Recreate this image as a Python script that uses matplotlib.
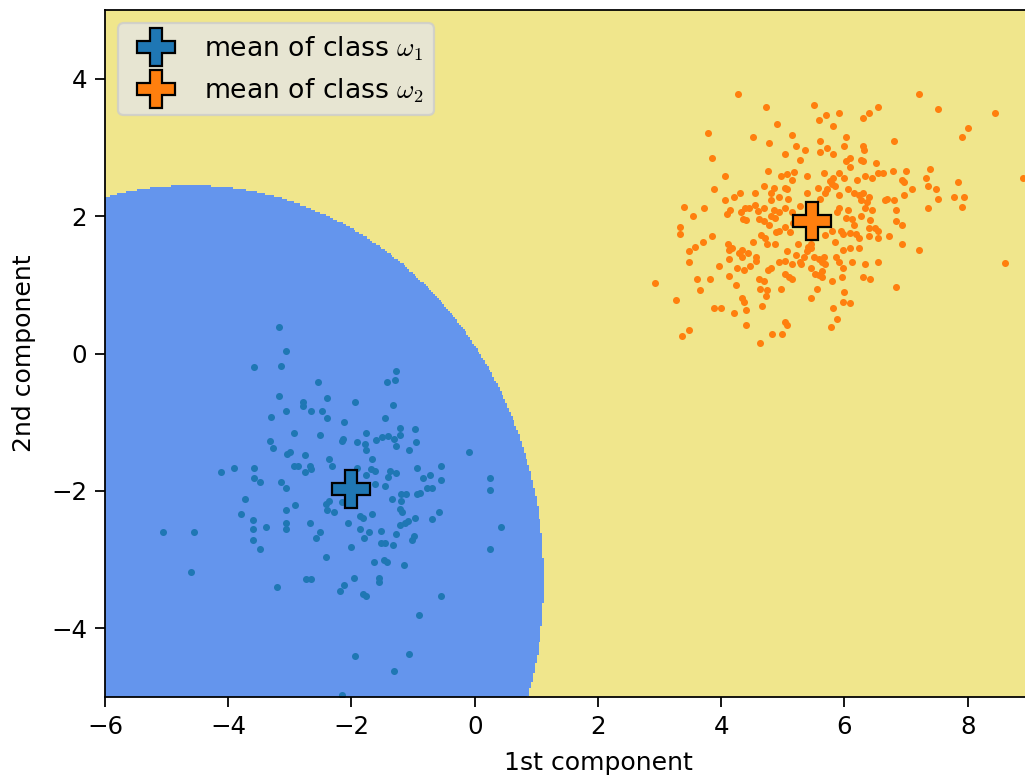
import numpy as np
import matplotlib
matplotlib.use("Agg")
import matplotlib.pyplot as plt
from matplotlib.colors import ListedColormap

plt.rcParams['mathtext.fontset'] = 'cm'
plt.rcParams['font.size'] = 11.3
plt.rcParams['xtick.labelsize'] = 11
plt.rcParams['ytick.labelsize'] = 11
plt.rcParams['xtick.major.size'] = 4.5
plt.rcParams['ytick.major.size'] = 4.5

# class 1 samples
blue_x = [-3.18, -3.06, -3.58, -3.15, -2.54, -1.27, -1.42, -1.30, -3.18, -2.39,
          -2.79, -2.79, -1.94, -1.33, -3.06, -2.66, -2.48, -3.30, -2.39, -2.12,
          -1.46, -1.21, -0.97, -2.94, -2.51, -1.77, -1.61, -1.50, -1.40, -1.31,
          -1.21, -3.33, -2.13, -2.16, -1.91, -1.78, -0.95, -3.27, -1.27, -1.76,
          -1.06, -0.09, -3.05, -3.00, -2.76, -2.37, -2.31, -1.66, -2.94, -2.86,
          -2.67, -2.76, -2.65, -4.12, -3.91, -3.58, -1.91, -1.77, -1.68, -1.62,
          -1.38, -1.27, -1.40, -0.94, -0.55, -3.58, -3.48, -3.15, -3.06, -0.84,
          -0.73, -0.55, 0.24, 0.24, -1.46, -1.62, -3.73, -2.92, -2.41, -2.36,
          -2.39, -2.28, -2.16, -1.34, -1.19, -1.12, -1.19, -0.94, -0.88, -0.78,
          -0.69, -3.80, -3.06, -1.21, -1.18, -0.58, -1.86, -1.67, -1.82, -0.97,
          -0.70, -3.60, -3.39, -3.06, -3.06, -2.67, -2.06, -1.86, -1.21, -1.13,
          -1.08, -3.60, -5.06, -4.55, -2.51, -2.58, -1.72, -1.52, -1.79, -1.27,
          -0.98, -1.01, 0.43, -3.60, -3.49, -2.00, -1.52, -1.46, -1.33, 0.24,
          -2.42, -1.64, -1.48, -1.42, -1.15, -4.61, -2.73, -2.66, -1.96, -1.55,
          -1.55, -3.21, -2.12, -2.19, -1.82, -1.76, -0.55, -0.91, -1.94, -1.06,
          -1.31, -2.16]
blue_y = [0.39, 0.04, -0.20, -0.18, -0.42, -0.26, -0.42, -0.38, -0.61, -0.64,
          -0.71, -0.77, -0.70, -0.75, -0.83, -0.83, -0.83, -0.92, -0.94, -0.99,
          -0.94, -1.08, -1.10, -1.16, -1.19, -1.16, -1.26, -1.21, -1.20, -1.24,
          -1.19, -1.27, -1.24, -1.27, -1.29, -1.32, -1.29, -1.38, -1.35, -1.40,
          -1.40, -1.43, -1.46, -1.43, -1.48, -1.53, -1.63, -1.54, -1.63, -1.63,
          -1.64, -1.73, -1.68, -1.73, -1.67, -1.67, -1.66, -1.76, -1.68, -1.71,
          -1.71, -1.74, -1.79, -1.66, -1.63, -1.81, -1.87, -1.87, -1.95, -1.81,
          -1.76, -1.84, -1.81, -1.98, -1.93, -1.90, -2.11, -2.20, -2.19, -2.15,
          -2.27, -2.31, -2.16, -2.11, -2.04, -2.04, -2.15, -2.05, -2.03, -1.95,
          -1.95, -2.33, -2.28, -2.26, -2.31, -2.31, -2.36, -2.33, -2.40, -2.39,
          -2.41, -2.42, -2.52, -2.47, -2.55, -2.46, -2.47, -2.55, -2.50, -2.47,
          -2.44, -2.55, -2.60, -2.60, -2.60, -2.68, -2.60, -2.58, -2.68, -2.63,
          -2.66, -2.72, -2.52, -2.72, -2.85, -2.82, -2.76, -2.76, -2.79, -2.85,
          -2.96, -3.04, -3.01, -3.04, -3.07, -3.18, -3.28, -3.28, -3.26, -3.26,
          -3.32, -3.40, -3.37, -3.45, -3.50, -3.53, -3.53, -3.81, -4.40, -4.38,
          -4.62, -4.97]

# class 2 samples
orange_x = [4.27, 4.72, 5.51, 5.70, 5.91, 5.58, 5.82, 6.30, 6.39, 6.54,
            7.21, 7.51, 8.45, 8.00, 7.90, 4.90, 3.79, 4.51, 4.78, 5.15,
            5.60, 5.21, 5.36, 5.72, 5.82, 5.60, 5.99, 6.03, 6.30, 6.32,
            6.81, 5.03, 5.27, 3.85, 6.09, 6.03, 6.09, 6.27, 6.30, 6.51,
            8.90, 4.76, 5.06, 5.18, 4.97, 5.15, 5.39, 5.66, 5.91, 5.82,
            5.76, 5.99, 6.21, 6.33, 6.45, 6.54, 6.63, 6.78, 7.00, 7.39,
            7.32, 4.06, 3.88, 4.30, 4.21, 4.55, 4.69, 4.85, 4.81, 5.03,
            5.06, 4.94, 5.09, 4.80, 5.39, 5.57, 5.72, 5.79, 5.84, 5.69,
            5.60, 5.91, 6.06, 6.15, 6.24, 6.30, 6.39, 6.27, 6.36, 6.65,
            6.69, 6.81, 6.94, 6.97, 7.09, 7.36, 7.48, 7.51, 7.84, 7.78,
            7.94, 7.90, 6.97, 7.36, 3.39, 3.72, 3.54, 4.06, 4.14, 4.10,
            4.32, 4.38, 4.45, 4.55, 4.60, 4.70, 4.85, 4.81, 4.88, 4.94,
            5.04, 5.15, 5.28, 5.26, 5.17, 5.91, 5.88, 6.06, 6.33, 6.45,
            6.02, 6.12, 6.27, 6.42, 6.84, 6.84, 6.94, 4.35, 4.40, 4.62,
            4.69, 4.78, 4.89, 4.94, 5.04, 5.12, 3.33, 3.33, 3.85, 3.70,
            3.58, 3.48, 3.48, 4.11, 4.17, 4.12, 4.33, 4.51, 4.64, 4.71,
            4.75, 4.87, 5.24, 5.40, 5.45, 5.68, 5.79, 5.95, 5.97, 6.09,
            6.16, 6.19, 6.24, 6.39, 6.39, 6.49, 6.54, 6.72, 6.54, 6.93,
            7.21, 5.84, 5.97, 6.09, 6.24, 4.29, 4.44, 4.33, 4.57, 4.57,
            5.06, 5.21, 5.39, 5.45, 5.35, 5.28, 5.29, 5.50, 5.58, 5.66,
            5.63, 5.87, 5.91, 6.12, 6.33, 6.54, 3.97, 4.12, 4.12, 4.26,
            4.37, 4.47, 4.76, 4.81, 4.94, 5.04, 5.15, 5.46, 5.52, 5.58,
            5.64, 5.63, 5.69, 5.97, 5.96, 6.30, 6.42, 3.60, 3.82, 3.66,
            4.24, 4.61, 4.69, 5.03, 5.10, 5.15, 4.63, 4.75, 4.97, 4.72,
            5.55, 5.79, 6.84, 8.60, 2.93, 3.27, 4.33, 4.37, 4.40, 3.88,
            4.00, 4.21, 4.66, 5.45, 6.00, 5.97, 6.09, 5.82, 4.40, 5.03,
            5.06, 4.82, 4.99, 5.88, 5.78, 3.48, 3.36, 4.63]
orange_y = [3.78, 3.59, 3.62, 3.48, 3.50, 3.40, 3.32, 3.43, 3.50, 3.59,
            3.78, 3.56, 3.50, 3.29, 3.15, 3.34, 3.21, 3.15, 3.07, 3.18,
            3.10, 3.02, 2.96, 2.99, 2.91, 2.93, 3.02, 3.15, 3.02, 2.96,
            3.10, 2.91, 2.82, 2.85, 2.85, 2.80, 2.72, 2.82, 2.80, 2.77,
            2.55, 2.66, 2.61, 2.64, 2.58, 2.53, 2.58, 2.63, 2.63, 2.55,
            2.51, 2.55, 2.53, 2.58, 2.55, 2.63, 2.63, 2.66, 2.66, 2.69,
            2.55, 2.58, 2.39, 2.34, 2.28, 2.34, 2.44, 2.41, 2.34, 2.41,
            2.39, 2.28, 2.25, 2.23, 2.34, 2.41, 2.39, 2.47, 2.44, 2.34,
            2.25, 2.31, 2.39, 2.34, 2.31, 2.34, 2.28, 2.23, 2.20, 2.23,
            2.25, 2.23, 2.53, 2.50, 2.39, 2.44, 2.39, 2.25, 2.50, 2.28,
            2.28, 2.14, 2.31, 2.12, 2.14, 2.12, 2.01, 2.23, 2.09, 2.03,
            2.06, 2.12, 2.12, 2.17, 2.07, 2.12, 2.09, 2.00, 1.98, 2.06,
            2.12, 2.06, 2.15, 1.99, 1.90, 2.12, 2.06, 2.09, 2.12, 2.09,
            1.98, 1.96, 2.01, 1.95, 2.09, 1.93, 1.87, 1.96, 1.95, 1.96,
            1.93, 1.87, 1.77, 1.79, 1.84, 1.77, 1.84, 1.74, 1.71, 1.63,
            1.55, 1.49, 1.33, 1.60, 1.54, 1.51, 1.51, 1.63, 1.73, 1.68,
            1.60, 1.60, 1.60, 1.55, 1.59, 1.73, 1.78, 1.78, 1.74, 1.76,
            1.87, 1.74, 1.68, 1.71, 1.83, 1.83, 1.79, 1.71, 1.68, 1.60,
            1.51, 1.63, 1.51, 1.54, 1.54, 1.46, 1.46, 1.41, 1.41, 1.35,
            1.49, 1.43, 1.49, 1.54, 1.41, 1.33, 1.30, 1.41, 1.38, 1.41,
            1.33, 1.41, 1.33, 1.33, 1.30, 1.33, 1.27, 1.38, 1.13, 1.25,
            1.22, 1.27, 1.22, 1.24, 1.33, 1.35, 1.30, 1.25, 1.16, 1.15,
            1.11, 1.20, 1.30, 1.24, 1.11, 1.11, 1.08, 1.08, 1.08, 0.92,
            1.00, 1.08, 1.05, 1.16, 1.11, 1.09, 0.94, 0.92, 0.94, 0.84,
            0.94, 1.05, 0.97, 1.32, 1.03, 0.78, 0.81, 0.75, 0.64, 0.67,
            0.67, 0.59, 0.70, 0.81, 0.89, 0.75, 0.73, 0.67, 0.42, 0.46,
            0.42, 0.29, 0.29, 0.51, 0.39, 0.34, 0.26, 0.15]

mean1 = (-2.00, -1.97)
mean2 = (5.48, 1.93)

# decision region of class 1 (nearly circular boundary)
region_center = (-4.6, -3.3)
region_radii = (5.72, 5.75)

fig = plt.figure(figsize=(1025 / 160, 778 / 160), dpi=160)
ax = fig.add_axes([0.1024, 0.104, 0.962, 0.883])

xx, yy = np.meshgrid(np.arange(-6, 10.03, 0.03), np.arange(-5, 5.03, 0.03))
inside = ((xx - region_center[0]) / region_radii[0]) ** 2 + \
         ((yy - region_center[1]) / region_radii[1]) ** 2 <= 1
zz = np.where(inside, 0, 1)
ax.pcolormesh(xx, yy, zz, cmap=ListedColormap(['cornflowerblue', 'khaki']),
              shading='nearest', rasterized=True)

ax.scatter(blue_x, blue_y, s=10, color='tab:blue', linewidths=0)
ax.scatter(orange_x, orange_y, s=10, color='tab:orange', linewidths=0)

ax.plot(*mean1, 'P', color='tab:blue', markersize=17, markeredgecolor='k',
        markeredgewidth=1.0, label=r'mean of class $\omega_1$')
ax.plot(*mean2, 'P', color='tab:orange', markersize=17, markeredgecolor='k',
        markeredgewidth=1.0, label=r'mean of class $\omega_2$')

ax.set_xlim(-6, 10)
ax.set_ylim(-5, 5)
ax.set_xticks([-6, -4, -2, 0, 2, 4, 6, 8])
ax.set_yticks([-4, -2, 0, 2, 4])
ax.set_xlabel('1st component', labelpad=5.5)
ax.set_ylabel('2nd component', labelpad=7)

ax.legend(loc='upper left', facecolor='#e5e5e5', framealpha=0.8, fontsize=12)

fig.savefig('out.png', dpi=160)
